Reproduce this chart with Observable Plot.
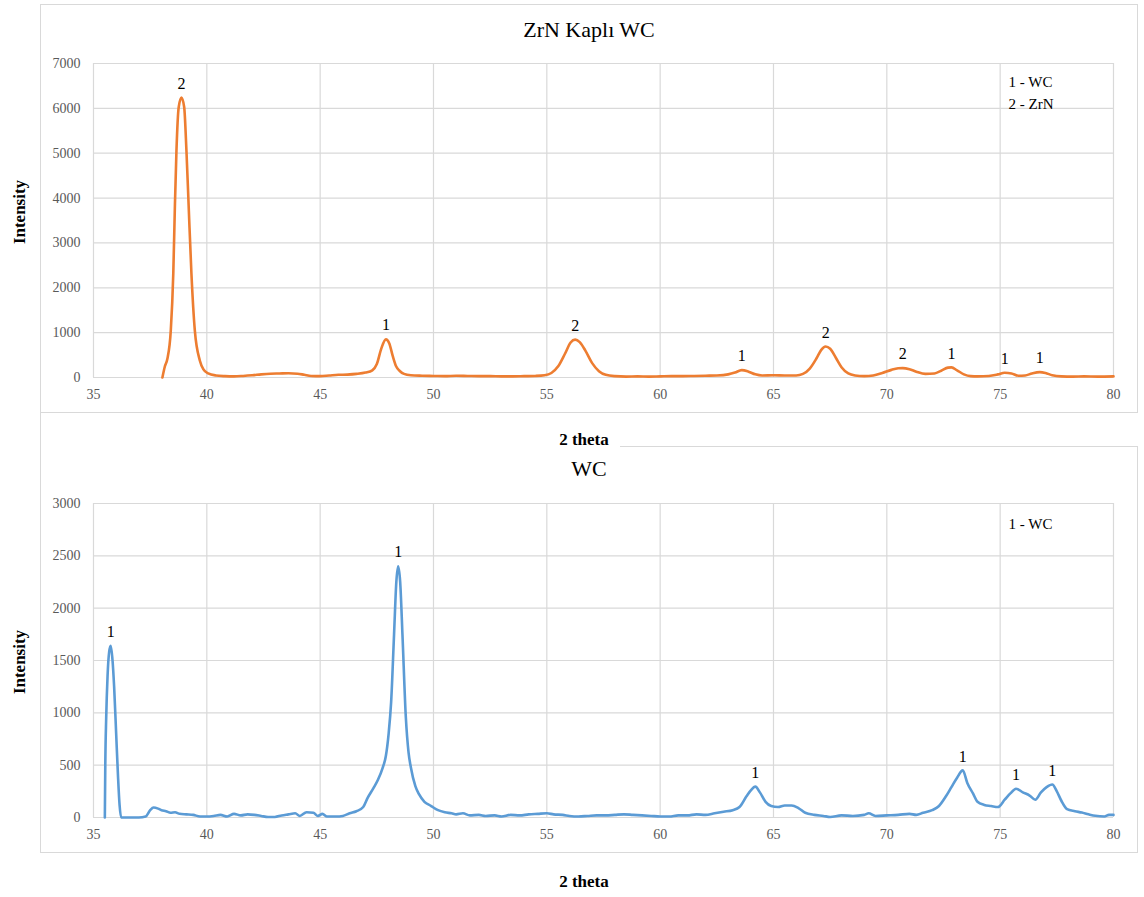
<!DOCTYPE html>
<html>
<head>
<meta charset="utf-8">
<script src="https://cdn.jsdelivr.net/npm/d3@7"></script>
<script src="https://cdn.jsdelivr.net/npm/@observablehq/plot@0.6"></script>
<style>
  html, body { margin: 0; padding: 0; background: #fff; }
  #page { position: relative; width: 1144px; height: 897px; background: #fff; overflow: hidden;
          font-family: "Liberation Serif", Tinos, "Times New Roman", "Nimbus Roman", "DejaVu Serif", "Noto Serif", FreeSerif, serif; }
  .ln { position: absolute; background: #d9d9d9; }
  .txt { position: absolute; white-space: nowrap; color: #000; line-height: 1; }
  .plotbox { position: absolute; left: 0; }
</style>
</head>
<body>
<div id="page">
  <!-- panel borders -->
  <div class="ln" style="left:40px;top:4px;width:1097px;height:1px"></div>
  <div class="ln" style="left:40px;top:4px;width:1px;height:848px"></div>
  <div class="ln" style="left:1137px;top:4px;width:1px;height:409px"></div>
  <div class="ln" style="left:40px;top:412px;width:1098px;height:1px"></div>
  <div class="ln" style="left:620px;top:446px;width:518px;height:1px"></div>
  <div class="ln" style="left:1137px;top:446px;width:1px;height:407px"></div>
  <div class="ln" style="left:40px;top:852px;width:1098px;height:1px"></div>

  <div id="topPlot" class="plotbox" style="top:0px"></div>
  <div id="bottomPlot" class="plotbox" style="top:440px"></div>

  <div class="txt" style="left:589px;top:19px;font-size:22px;transform:translateX(-50%)">ZrN Kaplı WC</div>
  <div class="txt" style="left:589px;top:458px;font-size:22px;transform:translateX(-50%)">WC</div>
  <div class="txt" style="left:584px;top:431px;font-size:17px;font-weight:bold;transform:translateX(-50%)">2 theta</div>
  <div class="txt" style="left:584px;top:873px;font-size:17px;font-weight:bold;transform:translateX(-50%)">2 theta</div>
  <div class="txt" style="left:19px;top:212px;font-size:17px;font-weight:bold;transform:translate(-50%,-50%) rotate(-90deg)">Intensity</div>
  <div class="txt" style="left:19px;top:662px;font-size:17px;font-weight:bold;transform:translate(-50%,-50%) rotate(-90deg)">Intensity</div>
</div>
<script>
// ---------- data ----------
const xTicks = [35, 40, 45, 50, 55, 60, 65, 70, 75, 80];
const topYTicks = [0, 1000, 2000, 3000, 4000, 5000, 6000, 7000];
const bottomYTicks = [0, 500, 1000, 1500, 2000, 2500, 3000];

// ZrN Kaplı WC pattern (2 theta, intensity)
const topTheta = [38.04, 38.15, 38.26, 38.41, 38.52, 38.59, 38.66, 38.76, 38.88, 39.00, 39.10, 39.20, 39.32, 39.47, 39.69, 39.85, 40.06,
  40.4, 40.8, 41.2, 41.6, 42.0, 42.4, 42.8, 43.2, 43.6, 44.0, 44.3, 44.6, 45.0, 45.4, 45.8, 46.2, 46.6, 47.0, 47.3, 47.5, 47.7, 47.9,
  48.05, 48.2, 48.35, 48.5, 48.7, 49.0, 49.5, 50.0, 50.5, 51.0, 51.5, 52.0, 52.5, 53.0, 53.5, 54.0, 54.5, 54.9, 55.2, 55.5, 55.8,
  56.05, 56.25, 56.45, 56.7, 57.0, 57.3, 57.6, 58.0, 58.5, 59.0, 59.5, 60.0, 60.5, 61.0, 61.5, 62.0, 62.5, 63.0, 63.3, 63.6, 63.9,
  64.2, 64.5, 65.0, 65.5, 66.0, 66.3, 66.6, 66.9, 67.1, 67.3, 67.5, 67.75, 68.0, 68.3, 68.6, 69.0, 69.4, 69.8, 70.2, 70.5, 70.7,
  71.0, 71.3, 71.7, 72.1, 72.4, 72.7, 72.85, 73.1, 73.4, 73.7, 74.0, 74.5, 74.9, 75.2, 75.5, 75.8, 76.1, 76.4, 76.75, 77.0, 77.3,
  77.7, 78.2, 78.7, 79.3, 80.0];
const topIntensity = [0, 250, 420, 1050, 2320, 3800, 5060, 6030, 6240, 6030, 5060, 3800, 2320, 1050, 380, 180, 90,
  45, 30, 25, 35, 50, 70, 85, 90, 95, 85, 60, 35, 30, 45, 60, 65, 80, 110, 160, 300, 650, 850,
  760, 480, 250, 150, 80, 50, 40, 35, 30, 40, 35, 30, 30, 25, 25, 30, 35, 50, 100, 250, 530,
  780, 845, 790, 600, 320, 140, 60, 30, 20, 25, 20, 25, 30, 30, 35, 40, 45, 70, 110, 165, 130,
  70, 45, 50, 45, 45, 80, 200, 430, 610, 690, 640, 440, 230, 90, 45, 30, 45, 100, 170, 205, 210,
  185, 130, 80, 90, 150, 220, 225, 160, 70, 30, 25, 35, 70, 105, 90, 40, 45, 90, 120, 100, 50,
  25, 20, 25, 20, 25];

// WC pattern (2 theta, intensity)
const bottomTheta = [35.50, 35.52, 35.56, 35.62, 35.69, 35.76, 35.84, 35.91, 36.0, 36.08, 36.15, 36.22, 36.6, 37.0, 37.3, 37.5,
  37.65, 37.85, 38.0, 38.2, 38.4, 38.6, 38.8, 39.1, 39.4, 39.7, 40.0, 40.3, 40.6, 40.9, 41.2, 41.5, 41.8, 42.1, 42.4, 42.7,
  43.0, 43.3, 43.6, 43.9, 44.1, 44.4, 44.7, 44.9, 45.1, 45.3, 45.7, 46.0, 46.3, 46.6, 46.9, 47.1, 47.35, 47.55, 47.75, 47.9,
  48.02, 48.13, 48.26, 48.36, 48.44, 48.53, 48.63, 48.78, 48.9, 49.0, 49.2, 49.36, 49.6, 49.88, 50.2, 50.5, 50.8, 51.0, 51.3,
  51.6, 52.0, 52.3, 52.7, 53.0, 53.4, 53.8, 54.2, 54.6, 55.0, 55.3, 55.7, 56.0, 56.4, 56.8, 57.2, 57.6, 58.0, 58.4, 58.8,
  59.2, 59.6, 60.0, 60.4, 60.8, 61.2, 61.6, 62.0, 62.4, 62.8, 63.2, 63.5, 63.8, 64.0, 64.2, 64.4, 64.65, 64.9, 65.2, 65.5,
  65.8, 66.1, 66.4, 66.8, 67.2, 67.5, 68.0, 68.5, 69.0, 69.2, 69.5, 70.0, 70.5, 71.0, 71.3, 71.6, 72.0, 72.3, 72.6, 72.85,
  73.1, 73.35, 73.55, 73.8, 74.0, 74.3, 74.6, 74.9, 75.2, 75.45, 75.7, 76.0, 76.3, 76.55, 76.8, 77.05, 77.3, 77.5, 77.7,
  77.95, 78.3, 78.6, 78.9, 79.2, 79.6, 79.8, 80.0];
const bottomIntensity = [0, 500, 950, 1350, 1580, 1640, 1500, 1250, 800, 400, 120, 0, 0, 0, 10, 70,
  95, 85, 70, 60, 45, 50, 35, 30, 25, 10, 10, 15, 25, 10, 35, 20, 30, 25, 15, 5,
  5, 20, 30, 40, 15, 50, 45, 15, 35, 10, 10, 15, 40, 60, 100, 190, 280, 360, 470, 590,
  800, 1100, 1750, 2250, 2400, 2250, 1750, 955, 620, 480, 300, 223, 150, 112, 70, 50, 40, 30, 40,
  20, 25, 15, 20, 10, 25, 20, 30, 35, 40, 30, 25, 15, 10, 15, 20, 20, 25, 30, 25,
  20, 15, 10, 10, 20, 20, 30, 25, 40, 55, 70, 100, 200, 260, 295, 240, 150, 110, 100, 115,
  115, 90, 45, 25, 15, 5, 20, 15, 25, 40, 15, 20, 25, 35, 25, 45, 70, 110, 200, 290,
  380, 450, 330, 230, 150, 120, 110, 100, 170, 230, 275, 240, 210, 170, 240, 290, 315, 250, 160,
  80, 60, 47, 30, 16, 10, 25, 25];

// peak annotations
const topPeakTheta = [38.88, 47.9, 56.25, 63.6, 67.3, 70.7, 72.85, 75.2, 76.75];
const topPeakIntensity = [6240, 850, 845, 165, 690, 210, 225, 105, 120];
const topPeakLabel = ["2", "1", "2", "1", "2", "2", "1", "1", "1"];
const bottomPeakTheta = [35.76, 48.44, 64.2, 73.35, 75.7, 77.3];
const bottomPeakIntensity = [1640, 2400, 295, 450, 275, 315];
const bottomPeakLabel = ["1", "1", "1", "1", "1", "1"];

const topLegend = ["1 - WC\n2 - ZrN"];
const bottomLegend = ["1 - WC"];

// ---------- drawing ----------
const SERIF = "'Liberation Serif', Tinos, 'Times New Roman', 'Nimbus Roman', 'DejaVu Serif', 'Noto Serif', FreeSerif, serif";
const GRID = "#d9d9d9";
const TICK = "#595959";
const fmt = d3.format("d");

function panel(theta, intensity, color, yTicks, peaksX, peaksY, peaksL, legend, legendDy) {
  const series = theta.map((x, i) => ({x, y: intensity[i]}));
  const peaks = peaksX.map((x, i) => ({x, y: peaksY[i], label: peaksL[i]}));
  return Plot.plot({
    width: 1144,
    height: 405,
    marginLeft: 93,
    marginRight: 31,
    marginTop: 63,
    marginBottom: 28,
    style: {background: "transparent", fontFamily: SERIF, overflow: "visible"},
    x: {domain: [35, 80]},
    y: {domain: [0, yTicks[yTicks.length - 1]]},
    marks: [
      Plot.gridX(xTicks, {stroke: GRID, strokeOpacity: 1, strokeWidth: 1.2}),
      Plot.gridY(yTicks, {stroke: GRID, strokeOpacity: 1, strokeWidth: 1.2}),
      Plot.axisX(xTicks, {tickSize: 0, tickPadding: 12, fontSize: 14, fill: TICK, label: null, tickFormat: fmt}),
      Plot.axisY(yTicks, {tickSize: 0, tickPadding: 13, fontSize: 14, fill: TICK, label: null, tickFormat: fmt}),
      Plot.line(series, {x: "x", y: "y", stroke: color, strokeWidth: 2.6, curve: "monotone-x"}),
      Plot.text(peaks, {x: "x", y: "y", text: "label", dy: -14, fontSize: 16, fill: "#000"}),
      Plot.text(legend, {frameAnchor: "top-right", textAnchor: "start", lineAnchor: "top",
        dx: -105, dy: legendDy, fontSize: 15, lineHeight: 1.47, fill: "#000"})
    ]
  });
}

document.getElementById("topPlot").append(
  panel(topTheta, topIntensity, "#ED7D31", topYTicks, topPeakTheta, topPeakIntensity, topPeakLabel, topLegend, 8)
);
document.getElementById("bottomPlot").append(
  panel(bottomTheta, bottomIntensity, "#5B9BD5", bottomYTicks, bottomPeakTheta, bottomPeakIntensity, bottomPeakLabel, bottomLegend, 10)
);
</script>
</body>
</html>
